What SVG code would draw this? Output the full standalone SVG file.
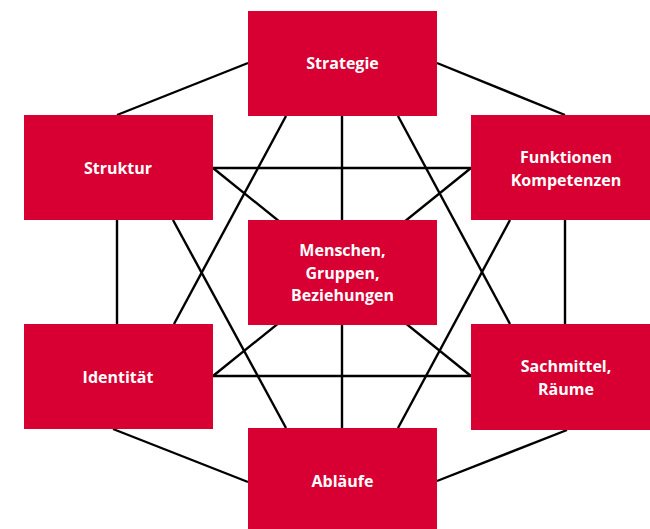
<svg xmlns="http://www.w3.org/2000/svg" width="650" height="529" viewBox="0 0 650 529">
<style>
.box{fill:#D80032}
.t{fill:#fff;font-family:"Open Sans","Noto Sans",sans-serif;font-weight:bold;font-size:16px;text-anchor:middle}
.c{stroke:#000;stroke-width:2.4;fill:none}
</style>
<rect width="650" height="529" fill="#fff"/>
<g id="connectors">
<line class="c" x1="117" y1="115" x2="248" y2="63"/>
<line class="c" x1="437" y1="63" x2="565" y2="115"/>
<line class="c" x1="117" y1="220" x2="117" y2="324"/>
<line class="c" x1="565" y1="220" x2="565" y2="324"/>
<line class="c" x1="113" y1="429" x2="248" y2="482"/>
<line class="c" x1="437" y1="481" x2="567" y2="430"/>
<line class="c" x1="213" y1="168" x2="471" y2="168"/>
<line class="c" x1="213" y1="376" x2="471" y2="376"/>
<line class="c" x1="342" y1="116" x2="342" y2="428"/>
<line class="c" x1="286" y1="116" x2="174" y2="324"/>
<line class="c" x1="398" y1="116" x2="510" y2="324"/>
<line class="c" x1="173" y1="220" x2="286" y2="428"/>
<line class="c" x1="510" y1="220" x2="398" y2="428"/>
<line class="c" x1="213" y1="168" x2="471" y2="376"/>
<line class="c" x1="471" y1="168" x2="213" y2="376"/>
</g>
<g id="strategie"><rect class="box" x="248" y="11" width="189" height="105"/><text class="t" x="342.5" y="69">Strategie</text></g>
<g id="struktur"><rect class="box" x="24" y="115" width="189" height="105"/><text class="t" x="118" y="174">Struktur</text></g>
<g id="funktionen"><rect class="box" x="471" y="115" width="189" height="105"/><text class="t" x="566" y="163">Funktionen</text><text class="t" x="566" y="186">Kompetenzen</text></g>
<g id="menschen"><rect class="box" x="248" y="220" width="189" height="105"/><text class="t" x="342.5" y="256">Menschen,</text><text class="t" x="342.5" y="279">Gruppen,</text><text class="t" x="342.5" y="301">Beziehungen</text></g>
<g id="identitaet"><rect class="box" x="24" y="324" width="189" height="105"/><text class="t" x="118" y="383">Identität</text></g>
<g id="sachmittel"><rect class="box" x="471" y="324" width="189" height="106"/><text class="t" x="566" y="372">Sachmittel,</text><text class="t" x="566" y="395">Räume</text></g>
<g id="ablaeufe"><rect class="box" x="248" y="428" width="189" height="101"/><text class="t" x="342.5" y="487">Abläufe</text></g>
</svg>
